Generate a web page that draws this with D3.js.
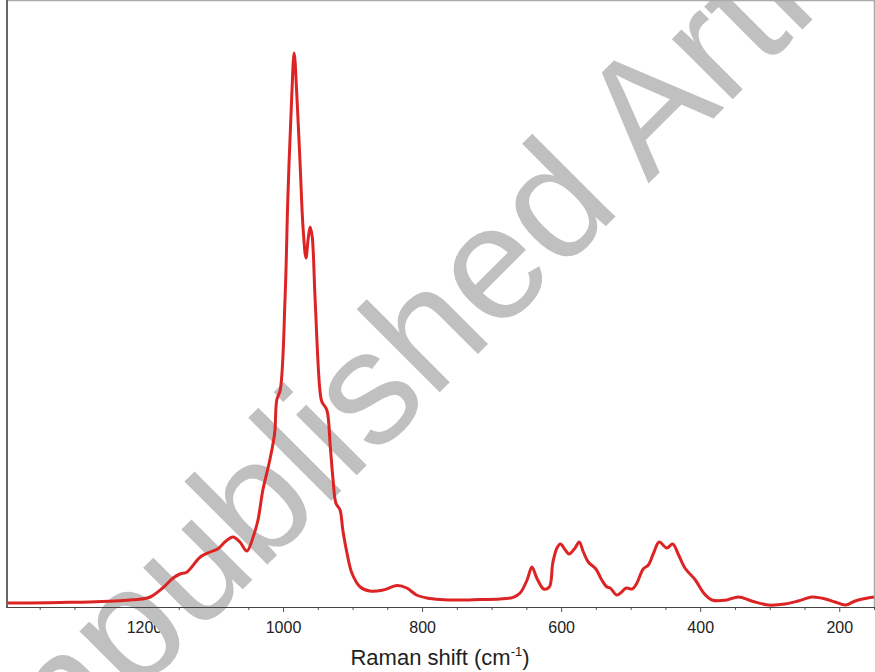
<!DOCTYPE html>
<html>
<head>
<meta charset="utf-8">
<script src="https://cdn.jsdelivr.net/npm/d3@7"></script>
<style>
  body { margin: 0; background: #fff; }
  svg { display: block; }
</style>
</head>
<body>
<div id="chart"></div>
<script>
// Raman spectrum (intensity in arbitrary units)
let shift = [1397, 1364, 1321, 1278, 1242, 1220, 1210, 1191, 1173, 1158, 1148, 1138, 1119, 1105, 1094,
    1082, 1072, 1062, 1052, 1043, 1036, 1029, 1019, 1012, 1009, 1004, 997, 993, 987.5, 984,
    980, 975.5, 971, 967, 964, 961, 958, 954, 947, 944, 937, 932, 928, 924, 918,
    914, 908, 901, 889, 875, 856, 836, 822, 808, 793, 774, 745, 717, 688, 669,
    659, 649, 642, 635, 625, 617, 612, 606, 601, 594, 588.5, 580, 574, 568, 561,
    550, 541.5, 534, 529.5, 520, 513, 506.5, 498, 491, 482, 474.5, 467, 459, 448, 439.5,
    431, 422, 407, 395, 383, 364, 345, 326, 302, 278, 259, 239, 220, 206, 191,
    177, 159, 150];
let intensity = [4, 4, 4.5, 5, 6, 7, 7.5, 10, 19, 29, 33, 35, 50, 55, 58,
    66, 70, 65, 56, 70, 87, 117, 147, 174, 207, 217, 310, 410, 510, 554,
    510, 444, 377, 349, 367, 380, 370, 310, 217, 205, 197, 160, 127, 104, 97,
    77, 54, 34, 20, 16, 17, 21.5, 19, 12, 9, 7.5, 7, 7.5, 8, 9.7,
    14, 27, 40, 29, 18, 20, 44, 59, 63, 57, 53, 59, 65, 55, 45,
    38, 27, 20, 19, 12, 15, 19, 18, 24, 38, 42, 54, 65, 59, 63,
    52, 39, 27, 14, 7, 6.7, 10, 6, 2, 3, 6, 10, 8, 5, 2,
    6, 9, 10];
let majorTicks = [1200, 1000, 800, 600, 400, 200];
let minorTicks = [1350, 1300, 1250, 1150, 1100, 1050, 950, 900, 850, 750, 700, 650, 550, 500, 450, 350, 300, 250, 150];
let xTitle = "Raman shift (cm";
let watermark = "Unpublished Article";

let width = 875, height = 672;
let plot = {left: 7, right: 874, top: 0, bottom: 607};
let font = "'Liberation Sans', Arial, sans-serif";

let data = shift.map(function(s, i) { return {s: s, v: intensity[i]}; });

let x = d3.scaleLinear().domain([1397, 150]).range([plot.left, plot.right]);
let y = d3.scaleLinear().domain([0, 607]).range([plot.bottom, plot.top]);

let svg = d3.select("#chart")
    .append("svg")
    .attr("width", width)
    .attr("height", height);

// minor ticks
svg.append("g")
    .attr("transform", "translate(0," + plot.bottom + ")")
    .call(d3.axisBottom(x).tickValues(minorTicks).tickSize(3).tickFormat(""))
    .call(function(g) { g.select(".domain").remove(); })
    .selectAll("line").attr("stroke", "#555");

// major ticks + labels
let xAxis = svg.append("g")
    .attr("transform", "translate(0," + plot.bottom + ")")
    .call(d3.axisBottom(x).tickValues(majorTicks).tickSize(5).tickPadding(10)
        .tickSizeOuter(0).tickFormat(d3.format("d")));
xAxis.select(".domain").remove();
xAxis.selectAll("line").attr("stroke", "#555");
xAxis.selectAll("text")
    .attr("font-family", font)
    .attr("font-size", 16)
    .attr("fill", "#222");

// axis title
let title = svg.append("text")
    .attr("x", 440)
    .attr("y", 665)
    .attr("text-anchor", "middle")
    .attr("font-family", font)
    .attr("font-size", 22)
    .attr("fill", "#222");
title.append("tspan").text(xTitle);
title.append("tspan").attr("font-size", 13).attr("dy", -9).text("-1");
title.append("tspan").attr("dy", 9).text(")");

// watermark
svg.append("text")
    .attr("transform", "translate(-14,846) rotate(-45)")
    .attr("font-family", font)
    .attr("font-size", 162)
    .attr("fill", "#c0c0c0")
    .text(watermark);

// frame
svg.append("line")
    .attr("x1", plot.left).attr("x2", plot.right + 1)
    .attr("y1", 0.5).attr("y2", 0.5)
    .attr("stroke", "#aaa").attr("stroke-width", 1.5);
svg.append("line")
    .attr("x1", plot.right + 0.5).attr("x2", plot.right + 0.5)
    .attr("y1", 0).attr("y2", plot.bottom)
    .attr("stroke", "#aaa").attr("stroke-width", 1.5);

// spectrum
let line = d3.line()
    .x(function(d) { return x(d.s); })
    .y(function(d) { return y(d.v); })
    .curve(d3.curveCatmullRom.alpha(0.5));

svg.append("path")
    .datum(data)
    .attr("d", line)
    .attr("fill", "none")
    .attr("stroke", "#dc2424")
    .attr("stroke-width", 3)
    .attr("stroke-linejoin", "round");

// axes lines
svg.append("line")
    .attr("x1", plot.left).attr("x2", plot.left)
    .attr("y1", 0).attr("y2", plot.bottom + 1)
    .attr("stroke", "#666").attr("stroke-width", 2);
svg.append("line")
    .attr("x1", plot.left).attr("x2", plot.right + 1)
    .attr("y1", plot.bottom + 0.5).attr("y2", plot.bottom + 0.5)
    .attr("stroke", "#444").attr("stroke-width", 1.2);
</script>
</body>
</html>
